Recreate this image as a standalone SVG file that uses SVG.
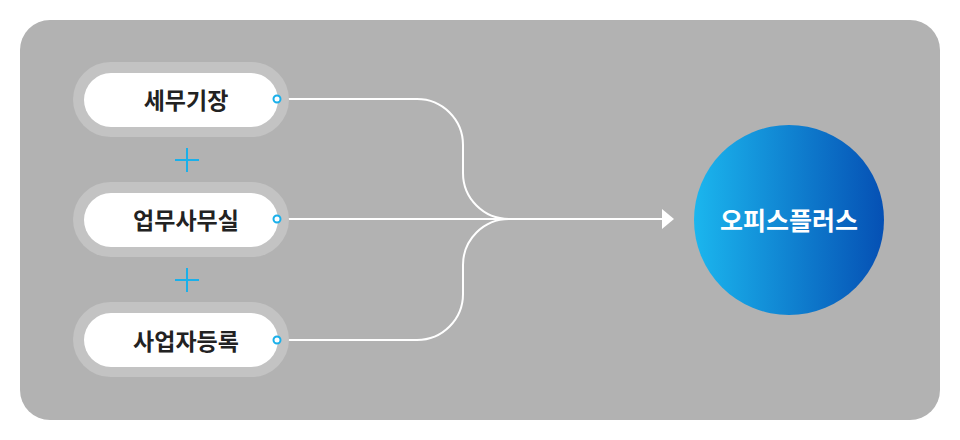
<svg xmlns="http://www.w3.org/2000/svg" width="960" height="440" viewBox="0 0 960 440">
<defs>
<style>
.outer{fill:#c3c3c3}
.inner{fill:#ffffff}
.lbl{font-family:"Noto Sans CJK KR","Noto Sans",sans-serif;font-size:23px;font-weight:700;fill:#222222;text-anchor:middle;dominant-baseline:central}
.dot{fill:#ffffff;stroke:#1ab0ea;stroke-width:2}
.plus{stroke:#1ab0ea;stroke-width:2;fill:none}
.conn{fill:none;stroke:#ffffff;stroke-width:2}
</style>
<linearGradient id="g" x1="0" y1="0" x2="1" y2="0">
<stop offset="0" stop-color="#1bb6ee"/>
<stop offset="1" stop-color="#0550b4"/>
</linearGradient>
<marker id="arr" markerWidth="12" markerHeight="20" refX="0" refY="10" orient="auto" markerUnits="userSpaceOnUse">
<path d="M0,0 L12,10 L0,20 Z" fill="#ffffff"/>
</marker>
</defs>
<rect x="20" y="20" width="920" height="400" rx="30" fill="#b2b2b2"/>
<g id="connectors">
<path class="conn" d="M277,99 H417 A46,46 0 0 1 463,145 V173 A46,46 0 0 0 509,219"/>
<path class="conn" d="M277,340 H417 A46,46 0 0 0 463,294 V265 A46,46 0 0 1 509,219"/>
<path class="conn" d="M277,219 H662" marker-end="url(#arr)"/>
</g>
<g id="node-1">
<rect class="outer" x="73" y="62" width="216" height="75" rx="37.5"/>
<rect class="inner" x="84" y="73" width="194" height="54" rx="27"/>
<text class="lbl" x="186" y="99">세무기장</text>
<circle class="dot" cx="277" cy="99" r="3.5"/>
</g>
<g id="plus-1"><path class="plus" d="M175,160 H199 M187,148 V172"/></g>
<g id="node-2">
<rect class="outer" x="73" y="182" width="216" height="75" rx="37.5"/>
<rect class="inner" x="84" y="193" width="194" height="54" rx="27"/>
<text class="lbl" x="186" y="219">업무사무실</text>
<circle class="dot" cx="277" cy="219" r="3.5"/>
</g>
<g id="plus-2"><path class="plus" d="M175,280 H199 M187,268 V292"/></g>
<g id="node-3">
<rect class="outer" x="73" y="302" width="216" height="75" rx="37.5"/>
<rect class="inner" x="84" y="313" width="194" height="54" rx="27"/>
<text class="lbl" x="186" y="340">사업자등록</text>
<circle class="dot" cx="277" cy="340" r="3.5"/>
</g>
<g id="node-officeplus">
<circle cx="789" cy="220" r="95" fill="url(#g)"/>
<text x="789" y="219" font-family="'Noto Sans CJK KR','Noto Sans',sans-serif" font-size="25" font-weight="700" fill="#ffffff" text-anchor="middle" dominant-baseline="central">오피스플러스</text>
</g>
</svg>
